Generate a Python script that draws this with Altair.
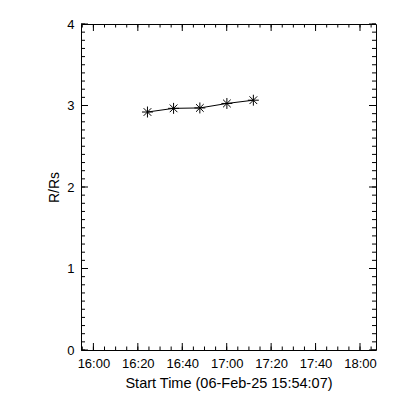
import altair as alt
import pandas as pd

# ---- data ----
times = ["2025-02-06T16:24:20", "2025-02-06T16:36:05", "2025-02-06T16:47:55",
         "2025-02-06T17:00:05", "2025-02-06T17:12:00"]
r_rs = [2.92, 2.965, 2.97, 3.025, 3.065]

x_major_hm = [(16, 0), (16, 20), (16, 40), (17, 0), (17, 20), (17, 40), (18, 0)]
x_minor_hm = [(h, m) for h in (15, 16, 17, 18) for m in range(0, 60, 5)
              if (h, m) >= (15, 55) and (h, m) <= (18, 5)]
y_major = [0, 1, 2, 3, 4]
y_minor = [round(i * 0.1, 1) for i in range(0, 41)]

W, H = 295, 326
FONT = "Liberation Sans"


def dt(h, m, s=0):
    return alt.DateTime(year=2025, month=2, date=6, hours=h, minutes=m, seconds=s)


def iso(h, m):
    return f"2025-02-06T{h:02d}:{m:02d}:00"


xscale = alt.Scale(domain=[dt(15, 54, 25), dt(18, 7, 12)])
yscale = alt.Scale(domain=[0, 4], nice=False, zero=False)

df = pd.DataFrame({"t": times, "r": r_rs})
df_xmaj = pd.DataFrame({"t": [iso(h, m) for h, m in x_major_hm]})
df_xmin = pd.DataFrame({"t": [iso(h, m) for h, m in x_minor_hm]})
df_ymaj = pd.DataFrame({"r": y_major})
df_ymin = pd.DataFrame({"r": y_minor})

base = alt.Chart(df)

xaxis = alt.Axis(values=[dt(h, m) for h, m in x_major_hm], format="%H:%M",
                 ticks=False, tickSize=0, domain=False, grid=False,
                 labelPadding=7, labelFont=FONT, labelFontSize=13, labelColor="black",
                 title="Start Time (06-Feb-25 15:54:07)", titleFont=FONT,
                 titleFontSize=14.5, titleFontWeight="normal", titleColor="black",
                 titlePadding=6, labelFlush=False, labelOverlap=False)
yaxis = alt.Axis(values=y_major, ticks=False, tickSize=0, domain=False, grid=False,
                 labelPadding=7, labelFont=FONT, labelFontSize=13, labelColor="black",
                 title="R/Rs", titleFont=FONT, titleFontSize=14,
                 titleFontWeight="normal", titleColor="black", titlePadding=5,
                 labelFlush=False, labelOverlap=False)

X = alt.X("t:T", scale=xscale, axis=xaxis)
Y = alt.Y("r:Q", scale=yscale, axis=yaxis)

line = base.mark_line(color="black", strokeWidth=1).encode(x=X, y=Y)

asterisk = "M-1,0L1,0M0,-1L0,1M-0.7,-0.7L0.7,0.7M-0.7,0.7L0.7,-0.7"
pts = base.mark_point(shape=asterisk, size=120, color="black", strokeWidth=1,
                      filled=False, opacity=1).encode(x=X, y=Y)


def xticks(d, length):
    bot = alt.Chart(d).mark_rule(color="black", strokeWidth=1).encode(
        x=X, y=alt.value(H), y2=alt.value(H - length))
    top = alt.Chart(d).mark_rule(color="black", strokeWidth=1).encode(
        x=X, y=alt.value(0), y2=alt.value(length))
    return bot + top


def yticks(d, length):
    left = alt.Chart(d).mark_rule(color="black", strokeWidth=1).encode(
        y=Y, x=alt.value(0), x2=alt.value(length))
    right = alt.Chart(d).mark_rule(color="black", strokeWidth=1).encode(
        y=Y, x=alt.value(W), x2=alt.value(W - length))
    return left + right


chart = alt.layer(
    line, pts,
    xticks(df_xmin, 3.5), xticks(df_xmaj, 7),
    yticks(df_ymin, 4), yticks(df_ymaj, 7),
).properties(
    width=W, height=H,
    autosize=alt.AutoSizeParams(type="none"),
    padding={"left": 73, "top": 16, "right": 16, "bottom": 42},
    background="white",
).configure_view(stroke="black", strokeWidth=1)

chart.save("out.html", embed_options={"renderer": "svg", "actions": False})
